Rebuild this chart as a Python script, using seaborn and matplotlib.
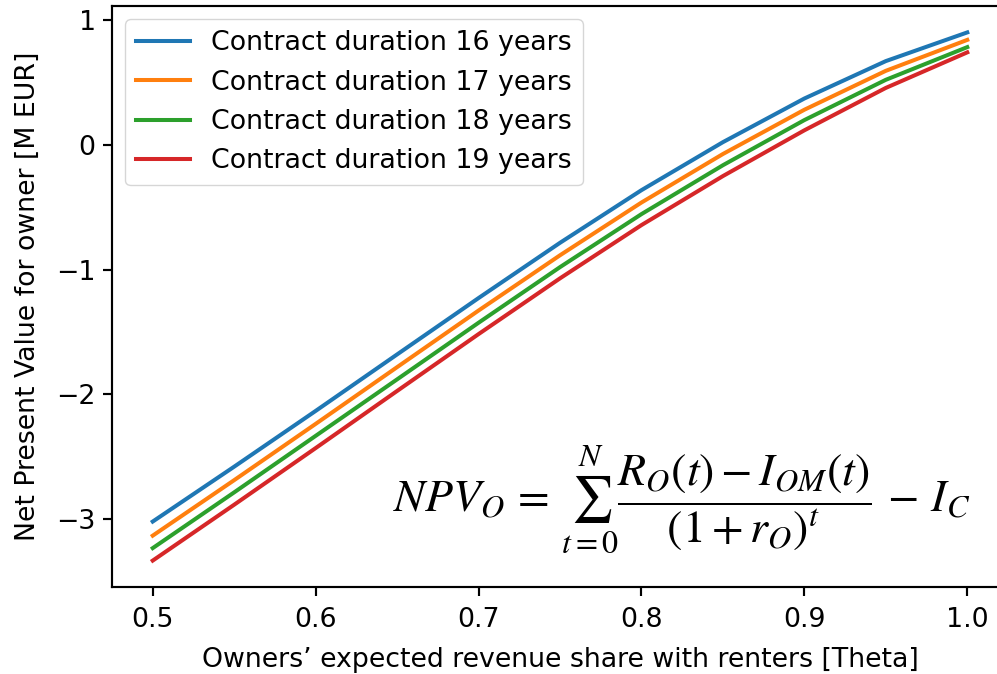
import matplotlib
matplotlib.use("Agg")
import matplotlib.pyplot as plt
import pandas as pd
import seaborn as sns

# Revenue share values (Theta)
theta = [0.50, 0.55, 0.60, 0.65, 0.70, 0.75, 0.80, 0.85, 0.90, 0.95, 1.00]

# Net present value for owner [M EUR] per contract duration
npv_16 = [-3.020, -2.580, -2.133, -1.680, -1.228, -0.785, -0.363, 0.022, 0.372, 0.672, 0.902]
npv_17 = [-3.133, -2.688, -2.237, -1.782, -1.328, -0.885, -0.462, -0.073, 0.282, 0.594, 0.842]
npv_18 = [-3.233, -2.786, -2.333, -1.880, -1.426, -0.980, -0.555, -0.163, 0.199, 0.522, 0.784]
npv_19 = [-3.333, -2.885, -2.431, -1.973, -1.517, -1.070, -0.643, -0.250, 0.117, 0.457, 0.742]

durations = [16, 17, 18, 19]
series = [npv_16, npv_17, npv_18, npv_19]

rows = []
for d, vals in zip(durations, series):
    for t, v in zip(theta, vals):
        rows.append({"theta": t, "npv": v, "label": f"Contract duration {d} years"})
df = pd.DataFrame(rows)

FS = 19.3
plt.rcParams.update({
    "font.family": ["DejaVu Sans"],
    "font.size": FS,
    "axes.linewidth": 1.55,
    "xtick.major.size": 6.75,
    "ytick.major.size": 6.75,
    "xtick.major.width": 1.55,
    "ytick.major.width": 1.55,
    "xtick.major.pad": 8,
    "ytick.major.pad": 5,
    "mathtext.fontset": "stix",
})

fig = plt.figure(figsize=(9.97, 6.74), dpi=100)
W, H = 997, 674
left, right, top, bottom = 112, 1008, 6, 587
ax = fig.add_axes([left / W, (H - bottom) / H, (right - left) / W, (bottom - top) / H])

sns.lineplot(data=df, x="theta", y="npv", hue="label", palette="tab10",
             linewidth=2.9, ax=ax)

ax.set_xlabel("Owners\u2019 expected revenue share with renters [Theta]",
              fontsize=FS, labelpad=10)
ax.set_ylabel("Net Present Value for owner [M EUR]", fontsize=FS, labelpad=11)
ax.set_xticks([0.5, 0.6, 0.7, 0.8, 0.9, 1.0])
ax.set_yticks([-3, -2, -1, 0, 1])
ax.tick_params(labelsize=FS)
ax.margins(x=0.05, y=0.05)

ax.legend(loc="upper left", fontsize=FS)

ax.text(0.636, 0.151,
        r"$NPV_O\,=\,\sum_{t=0}^{N}\dfrac{R_O(t) - I_{OM}(t)}{(1+r_O)^t}\,-\,I_C$",
        transform=ax.transAxes, ha="center", va="center", fontsize=33)

fig.savefig("out.png", dpi=100)
